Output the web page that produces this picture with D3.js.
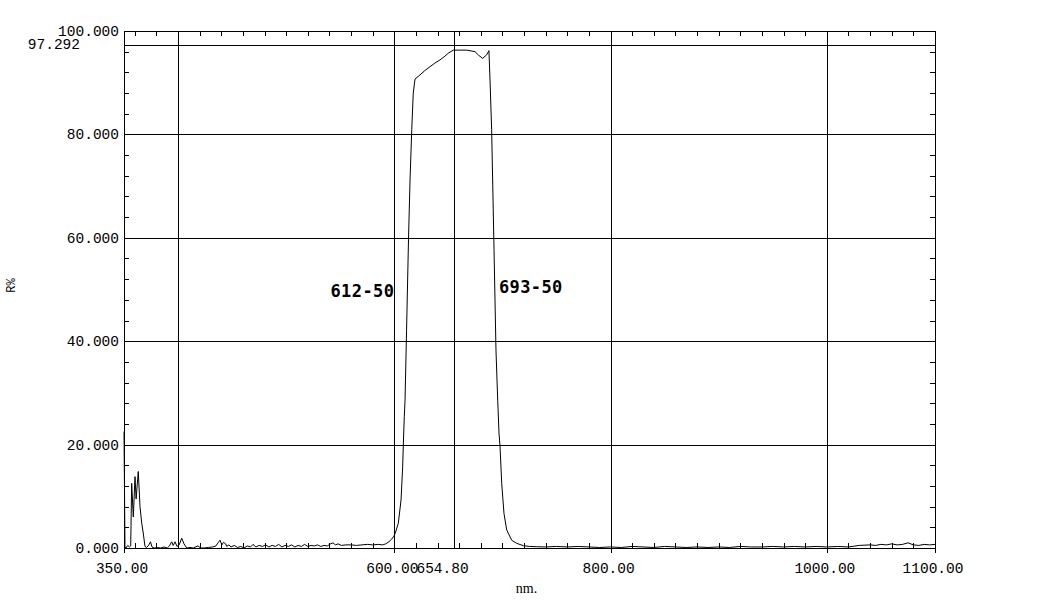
<!DOCTYPE html>
<html>
<head>
<meta charset="utf-8">
<script src="https://cdn.jsdelivr.net/npm/d3@7"></script>
<style>
  html, body { margin: 0; padding: 0; background: #fff; }
  svg { display: block; }
</style>
</head>
<body>
<svg id="chart" width="1058" height="601"></svg>
<script>
// ---- data ----
const wavelengths = [
  350, 350.9, 351.8, 353.5, 355, 356.2, 357.1, 358.6, 360.2, 361.2, 363.2, 364.8, 366.4, 367.8, 369.4,
  371, 373, 374.5, 375.9, 378, 381, 384, 387, 390, 392, 394.1, 395.5, 397.2, 399, 401, 403.4, 405.5,
  408, 411, 414, 418.4, 421, 424, 428, 432, 435, 437, 438.8, 440.5, 442, 444, 445, 447, 449, 452, 455,
  458, 461, 464, 467, 469.3, 472, 475, 478, 481, 484, 487, 490, 493, 496, 499, 502, 505, 508, 511, 514,
  517, 520, 523, 526, 529, 532, 535, 538, 541, 543.3, 545.5, 548, 551, 555, 560, 565, 570, 575, 580,
  585, 589, 592, 595, 597.5, 599.7, 601.5, 603.7, 606.2, 607.7, 608.3, 609.2, 609.9, 611.3, 613.1,
  614.5, 616.1, 617.5, 619.1, 623.7, 628, 633, 637.5, 642.2, 646, 649.9, 654.5, 660, 667, 674.6, 678,
  681.7, 685.4, 687.5, 688.5, 690.0, 692.2, 694.0, 695.6, 696.8, 697.7, 699.3, 701.4, 703.9, 708.5,
  713.2, 719.3, 725, 731.7, 740, 750, 760, 770, 780, 790, 800, 810, 820, 830, 840, 850, 860, 870, 880,
  890, 900, 910, 920, 930, 940, 950, 960, 970, 980, 990, 1000, 1010, 1020, 1030, 1040, 1045, 1050,
  1055, 1060, 1065, 1070, 1075, 1080, 1085, 1090, 1095, 1100
];
const reflectance = [
  22.5, 0.3, 0.0, 0.5, 0.2, 0.4, 12.5, 6.0, 13.8, 9.5, 14.8, 8.0, 4.8, 2.9, 0.3,
  0.1, 0.6, 1.2, 0.2, 0.0, 0.1, 0.0, 0.2, 0.0, 0.4, 1.2, 0.5, 1.2, 0.3, 0.6, 1.9, 0.8,
  0.0, 0.1, 0.0, 0.4, 0.0, 0.0, 0.1, 0.2, 0.4, 1.0, 1.5, 0.6, 1.1, 0.8, 0.3, 0.6, 0.2, 0.5, 0.1,
  0.3, 0.0, 0.4, 0.2, 0.7, 0.2, 0.5, 0.3, 0.6, 0.2, 0.5, 0.3, 0.7, 0.2, 0.5, 0.3, 0.6, 0.2, 0.5, 0.3,
  0.7, 0.3, 0.5, 0.4, 0.6, 0.3, 0.5, 0.4, 0.8, 1.0, 0.6, 0.8, 0.5, 0.6, 0.6, 0.5, 0.6, 0.7, 0.6,
  0.7, 0.6, 0.8, 1.2, 1.7, 2.3, 3.3, 4.8, 9.3, 15.7, 19.9, 25.4, 28.6, 42.0, 59.6,
  71.0, 80.9, 88.0, 90.7, 91.5, 92.3, 93.1, 93.8, 94.4, 95.0, 95.7, 96.3, 96.3, 96.3, 96.0, 95.3,
  94.7, 95.4, 96.2, 90.5, 80.9, 57.6, 38.3, 28.6, 22.2, 19.9, 12.5, 6.7, 3.5, 1.5,
  0.9, 0.45, 0.3, 0.25, 0.2, 0.3, 0.2, 0.3, 0.2, 0.1, 0.2, 0.1, 0.3, 0.2, 0.1, 0.3, 0.2, 0.1, 0.2,
  0.1, 0.2, 0.1, 0.3, 0.2, 0.2, 0.3, 0.2, 0.3, 0.2, 0.3, 0.2, 0.3, 0.2, 0.5, 0.6, 0.5, 0.7,
  0.6, 0.8, 0.6, 0.7, 1.0, 0.6, 0.5, 0.7, 0.6, 0.7
];
const xTickValues = [350, 600, 654.8, 800, 1000, 1100];
const xGridValues = [400, 600, 654.8, 800, 1000];
const yTickValues = [0, 20, 40, 60, 80, 100];
const yGridValues = [20, 40, 60, 80, 97.292];
const peakMarker = 97.292;
const annotations = [
  { text: "612-50", nm: 612 },
  { text: "693-50", nm: 693 }
];
const xTitle = "nm.";
const yTitle = "R%";

// ---- layout ----
const svg = d3.select("#chart");
const mLeft = 124, mRight = 935, mTop = 31, mBottom = 548;
const x = d3.scaleLinear().domain([350, 1100]).range([mLeft, mRight]);
const y = d3.scaleLinear().domain([0, 100]).range([mBottom, mTop]);
const labelFont = "'Liberation Mono', monospace";

svg.append("rect").attr("width", 1058).attr("height", 601).attr("fill", "#fff");

const g = svg.append("g").attr("shape-rendering", "crispEdges");

// grid lines
g.selectAll(".hgrid").data(yGridValues).enter().append("line")
  .attr("x1", mLeft).attr("x2", mRight)
  .attr("y1", d => Math.round(y(d)) + 0.5).attr("y2", d => Math.round(y(d)) + 0.5)
  .attr("stroke", "#000").attr("stroke-width", 1);
g.selectAll(".vgrid").data(xGridValues).enter().append("line")
  .attr("x1", d => Math.round(x(d)) + 0.5).attr("x2", d => Math.round(x(d)) + 0.5)
  .attr("y1", mTop).attr("y2", mBottom)
  .attr("stroke", "#000").attr("stroke-width", 1);

// frame
g.append("rect")
  .attr("x", mLeft + 0.5).attr("y", mTop + 0.5)
  .attr("width", mRight - mLeft).attr("height", mBottom - mTop)
  .attr("fill", "none").attr("stroke", "#000").attr("stroke-width", 1);

// minor ticks
const xMinor = d3.range(360, 1100, 20);
const yMinor = d3.range(4, 100, 4);
const tl = 5;
xMinor.forEach(v => {
  const px = Math.round(x(v)) + 0.5;
  g.append("line").attr("x1", px).attr("x2", px).attr("y1", mBottom).attr("y2", mBottom - tl).attr("stroke", "#000");
  g.append("line").attr("x1", px).attr("x2", px).attr("y1", mTop).attr("y2", mTop + tl).attr("stroke", "#000");
});
yMinor.forEach(v => {
  const py = Math.round(y(v)) + 0.5;
  g.append("line").attr("y1", py).attr("y2", py).attr("x1", mLeft).attr("x2", mLeft + tl).attr("stroke", "#000");
  g.append("line").attr("y1", py).attr("y2", py).attr("x1", mRight).attr("x2", mRight - tl).attr("stroke", "#000");
});
// major x ticks extending below axis
xTickValues.forEach(v => {
  const px = Math.round(x(v)) + 0.5;
  if (v !== 654.8) {
    g.append("line").attr("x1", px).attr("x2", px).attr("y1", mBottom).attr("y2", mBottom + 5).attr("stroke", "#000");
  }
});

// curve
const pts = wavelengths.map((w, i) => [w, reflectance[i]]);
const line = d3.line().x(d => x(d[0])).y(d => y(d[1]));
svg.append("path").datum(pts)
  .attr("d", line)
  .attr("fill", "none").attr("stroke", "#000").attr("stroke-width", 1)
  .attr("stroke-linejoin", "round");

// x tick labels (654.80 placed next to 600.00 as in the reference)
svg.selectAll(".xl").data(xTickValues).enter().append("text")
  .attr("x", d => x(d) - 2 + (d === 654.8 ? -9 : 0))
  .attr("y", mBottom + 25)
  .attr("text-anchor", "middle")
  .attr("font-family", labelFont).attr("font-size", "14.5px")
  .attr("fill", "#000")
  .text(d => d.toFixed(2));

// y tick labels
svg.selectAll(".yl").data(yTickValues).enter().append("text")
  .attr("x", mLeft - 5)
  .attr("y", d => y(d))
  .attr("dy", "0.35em")
  .attr("text-anchor", "end")
  .attr("font-family", labelFont).attr("font-size", "14.5px")
  .attr("fill", "#000")
  .text(d => d.toFixed(3));

// peak marker label
svg.append("text")
  .attr("x", 80).attr("y", y(peakMarker) - 1)
  .attr("dy", "0.35em")
  .attr("text-anchor", "end")
  .attr("font-family", labelFont).attr("font-size", "14.5px")
  .attr("fill", "#000")
  .text(peakMarker.toFixed(3));

// axis titles
svg.append("text")
  .attr("x", (mLeft + mRight) / 2 - 3).attr("y", mBottom + 45)
  .attr("text-anchor", "middle")
  .attr("font-family", "'Liberation Serif', serif").attr("font-size", "14px")
  .attr("fill", "#000")
  .text(xTitle);
svg.append("text")
  .attr("transform", `translate(15, ${(mTop + mBottom) / 2 - 4}) rotate(-90)`)
  .attr("text-anchor", "middle")
  .attr("font-family", labelFont).attr("font-size", "12px")
  .attr("fill", "#000")
  .text(yTitle);

// annotations
svg.append("text")
  .attr("x", x(annotations[0].nm) - 13).attr("y", y(48.6))
  .attr("text-anchor", "end")
  .attr("font-family", "'DejaVu Sans Mono', monospace").attr("font-weight", "bold")
  .attr("font-size", "17px").attr("letter-spacing", "0.4px")
  .attr("fill", "#000")
  .text(annotations[0].text);
svg.append("text")
  .attr("x", x(annotations[1].nm) + 4).attr("y", y(49.4))
  .attr("text-anchor", "start")
  .attr("font-family", "'DejaVu Sans Mono', monospace").attr("font-weight", "bold")
  .attr("font-size", "17px").attr("letter-spacing", "0.4px")
  .attr("fill", "#000")
  .text(annotations[1].text);
</script>
</body>
</html>
